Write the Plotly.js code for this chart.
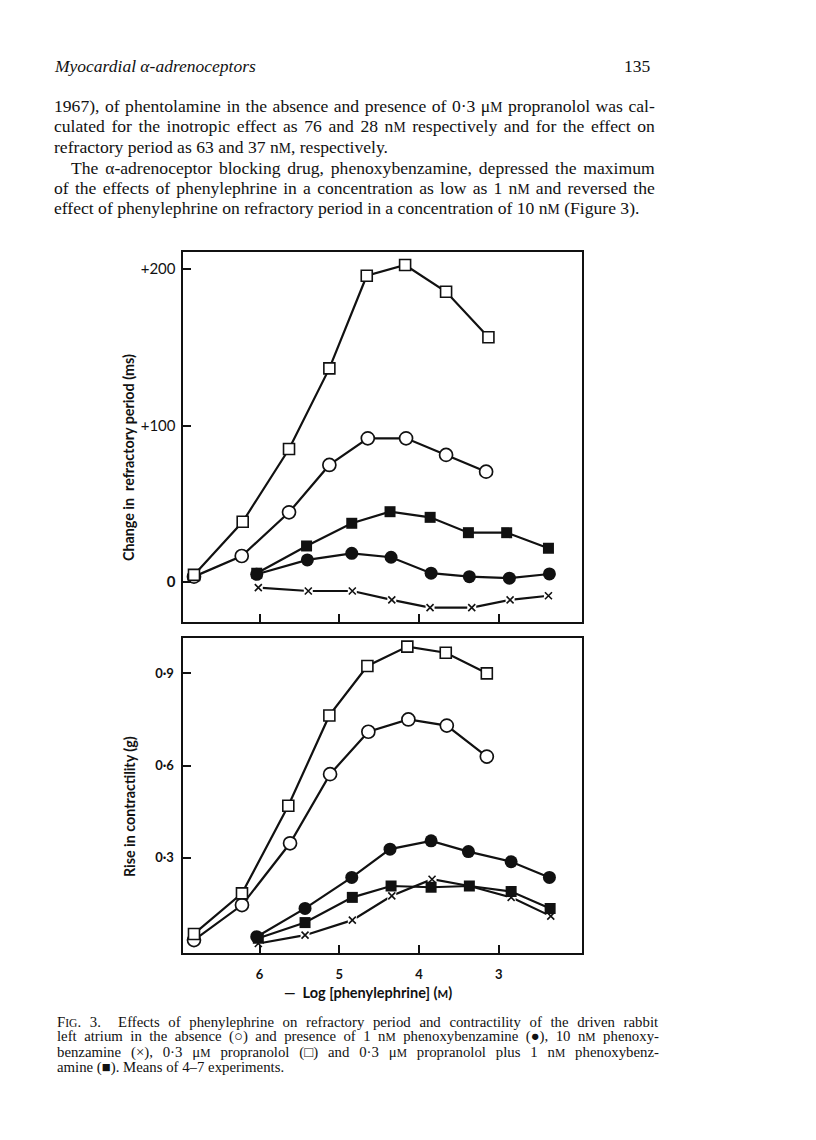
<!DOCTYPE html>
<html><head><meta charset="utf-8">
<script src="https://cdn.plot.ly/plotly-3.0.1.min.js"></script>
<style>html,body{margin:0;padding:0;background:#fff;} #page{width:816px;height:1140px;}</style>
</head><body><div id="page"></div>
<script>
// x values are -log[phenylephrine] (M)
// ---- Top panel: change in refractory period (ms) ----
const refrAbsenceX   = [6.822, 6.223, 5.630, 5.124, 4.642, 4.162, 3.660, 3.158];
const refrAbsenceY   = [3.4, 16.6, 44.5, 74.8, 91.8, 91.8, 81.2, 70.5];
const refrPbz1X      = [6.035, 5.400, 4.843, 4.350, 3.848, 3.368, 2.866, 2.364];
const refrPbz1Y      = [4.9, 14.1, 18.3, 15.8, 5.6, 3.4, 2.4, 5.1];
const refrPbz10X     = [6.015, 5.388, 4.836, 4.341, 3.861, 3.338, 2.857, 2.376];
const refrPbz10Y     = [-3.6, -5.8, -5.8, -11.5, -16.4, -16.4, -11.5, -8.8];
const refrPropX      = [6.822, 6.211, 5.630, 5.124, 4.655, 4.174, 3.660, 3.129];
const refrPropY      = [4.5, 38.5, 85.0, 136.5, 195.7, 202.6, 185.5, 156.4];
const refrPropPbzX   = [6.035, 5.410, 4.843, 4.363, 3.860, 3.380, 2.900, 2.376];
const refrPropPbzY   = [5.6, 23.0, 37.5, 44.9, 41.3, 31.5, 31.5, 21.5];
// ---- Bottom panel: rise in contractility (g) ----
const contAbsenceX   = [6.822, 6.220, 5.617, 5.115, 4.635, 4.133, 3.651, 3.149];
const contAbsenceY   = [0.032, 0.146, 0.347, 0.572, 0.710, 0.750, 0.730, 0.629];
const contPbz1X      = [6.035, 5.429, 4.843, 4.363, 3.848, 3.380, 2.844, 2.364];
const contPbz1Y      = [0.043, 0.135, 0.236, 0.328, 0.355, 0.320, 0.287, 0.236];
const contPbz10X     = [6.015, 5.429, 4.836, 4.341, 3.836, 3.368, 2.844, 2.347];
const contPbz10Y     = [0.021, 0.048, 0.097, 0.176, 0.230, 0.208, 0.171, 0.110];
const contPropX      = [6.822, 6.220, 5.639, 5.124, 4.647, 4.146, 3.664, 3.149];
const contPropY      = [0.052, 0.184, 0.469, 0.763, 0.924, 0.987, 0.967, 0.900];
const contPropPbzX   = [6.015, 5.429, 4.836, 4.350, 3.848, 3.368, 2.844, 2.355];
const contPropPbzY   = [0.038, 0.089, 0.171, 0.208, 0.204, 0.208, 0.190, 0.135];
// ---- Ticks ----
const xTickVals   = [6, 5, 4, 3];
const xTickText   = ['6', '5', '4', '3'];
const refrTickVals = [0, 100, 200];
const refrTickText = ['<b>0</b>', '+100', '+200'];
const contTickVals = [0.3, 0.6, 0.9];
const contTickText = ['0·3', '0·6', '0·9'];
// ---- Text ----
const SC = s => `<span style="font-size:0.78em">${s}</span>`;
const headerText = 'Myocardial α-adrenoceptors';
const pageNumber = '135';
const bodyLines = [
  `1967), of phentolamine in the absence and presence of 0·3 μ${SC('M')} propranolol was cal-`,
  `culated for the inotropic effect as 76 and 28 n${SC('M')} respectively and for the effect on`,
  `refractory period as 63 and 37 n${SC('M')}, respectively.`,
  `The α-adrenoceptor blocking drug, phenoxybenzamine, depressed the maximum`,
  `of the effects of phenylephrine in a concentration as low as 1 n${SC('M')} and reversed the`,
  `effect of phenylephrine on refractory period in a concentration of 10 n${SC('M')} (Figure 3).`
];
const captionLines = [
  `F${SC('IG')}. 3.  Effects of phenylephrine on refractory period and contractility of the driven rabbit`,
  `left atrium in the absence (○) and presence of 1 n${SC('M')} phenoxybenzamine (●), 10 n${SC('M')} phenoxy-`,
  `benzamine (×), 0·3 μ${SC('M')} propranolol (□) and 0·3 μ${SC('M')} propranolol plus 1 n${SC('M')} phenoxybenz-`,
  `amine (■). Means of 4–7 experiments.`
];
const refrTitle = 'Change in  refractory period (ms)';
const contTitle = 'Rise in contractility (g)';
const xTitle = `—  Log [phenylephrine] (${SC('M')})`;

const W = 816, H = 1140;
const INK = '#111';
const px = v => v / W, py = v => 1 - v / H;

const styles = {
  openCircle:   {symbol: 'circle', size: 13, color: '#fff', line: {color: INK, width: 1.7}},
  filledCircle: {symbol: 'circle', size: 13, color: INK, line: {color: INK, width: 0}},
  openSquare:   {symbol: 'square', size: 11, color: '#fff', line: {color: INK, width: 1.6}},
  filledSquare: {symbol: 'square', size: 11, color: INK, line: {color: INK, width: 0}},
  cross:        {symbol: 'x-thin', size: 7, color: INK, line: {color: INK, width: 1.6}}
};
const series = [
  [refrAbsenceX, refrAbsenceY, 'x', 'y', 'openCircle'],
  [refrPbz1X, refrPbz1Y, 'x', 'y', 'filledCircle'],
  [refrPbz10X, refrPbz10Y, 'x', 'y', 'cross'],
  [refrPropX, refrPropY, 'x', 'y', 'openSquare'],
  [refrPropPbzX, refrPropPbzY, 'x', 'y', 'filledSquare'],
  [contAbsenceX, contAbsenceY, 'x2', 'y2', 'openCircle'],
  [contPbz1X, contPbz1Y, 'x2', 'y2', 'filledCircle'],
  [contPbz10X, contPbz10Y, 'x2', 'y2', 'cross'],
  [contPropX, contPropY, 'x2', 'y2', 'openSquare'],
  [contPropPbzX, contPropPbzY, 'x2', 'y2', 'filledSquare']
];
const data = [];
series.forEach(([x, y, xa, ya]) => data.push({x, y, xaxis: xa, yaxis: ya, type: 'scatter', mode: 'lines',
  line: {color: INK, width: 2.2}, hoverinfo: 'skip', showlegend: false}));
series.forEach(([x, y, xa, ya, k]) => {
  if (k === 'cross') data.push({x, y, xaxis: xa, yaxis: ya, type: 'scatter', mode: 'markers',
    marker: {symbol: 'square', size: 9, color: '#fff', line: {width: 0}}, showlegend: false});
  data.push({x, y, xaxis: xa, yaxis: ya, type: 'scatter', mode: 'markers', marker: styles[k], showlegend: false});
});

const xDom = [px(182.5), px(581.7)];
const xRange = [6.966, 1.959];
const axisCommon = {showline: true, mirror: true, linewidth: 2, linecolor: INK, ticks: 'inside',
  ticklen: 8, tickwidth: 2, tickcolor: INK, showgrid: false, zeroline: false, fixedrange: true};
const tickFont = {family: 'Lato', size: 13, color: INK, weight: 'bold'};
const topTickFont = {family: 'Lato', size: 15, color: INK, weight: 'normal'};

const anns = [];
const serif = (size, extra) => Object.assign({family: 'Liberation Serif', size, color: INK}, extra || {});
const textAnn = (text, x, y, font, o) => Object.assign({xref: 'paper', yref: 'paper', x: px(x), y: py(y),
  xanchor: 'left', yanchor: 'middle', showarrow: false, text, font}, o || {});

anns.push(textAnn(headerText, 52, 66, serif(17.5, {style: 'italic'})));
anns.push(textAnn(pageNumber, 653, 66, serif(17.5), {xanchor: 'right'}));
const bodyY = [106, 126, 146.5, 168, 188, 207.5];
const justify = [];
bodyLines.forEach((t, i) => {
  const x0 = i === 3 ? 69 : 52;
  anns.push(textAnn(t, x0, bodyY[i], serif(17.6)));
  justify.push({idx: anns.length - 1, x0, target: (i === 2 || i === 5) ? null : 653});
});
const capY = [1021.5, 1036.8, 1052.1, 1067.4];
captionLines.forEach((t, i) => {
  anns.push(textAnn(t, 55, capY[i], serif(14.8)));
  justify.push({idx: anns.length - 1, x0: 55, target: i === 3 ? null : 657});
});
const sans = {family: 'Lato', size: 14.3, color: INK, weight: 'bold'};
anns.push(textAnn(refrTitle, 128, 458, sans, {xanchor: 'center', textangle: -90}));
anns.push(textAnn(contTitle, 129, 807, sans, {xanchor: 'center', textangle: -90}));
anns.push(textAnn(xTitle, 368, 992, Object.assign({}, sans, {size: 14.5}), {xanchor: 'center'}));

const layout = {
  width: W, height: H, margin: {l: 0, r: 0, t: 0, b: 0}, paper_bgcolor: '#fff', plot_bgcolor: '#fff',
  showlegend: false,
  xaxis: Object.assign({}, axisCommon, {domain: xDom, range: xRange, anchor: 'y', tickvals: xTickVals, showticklabels: false}),
  yaxis: Object.assign({}, axisCommon, {domain: [py(622), py(252)], range: [-25.6, 210.9], anchor: 'x',
    tickvals: refrTickVals, ticktext: refrTickText, tickfont: topTickFont, ticklabelstandoff: 2}),
  xaxis2: Object.assign({}, axisCommon, {domain: xDom, range: xRange, anchor: 'y2', tickvals: xTickVals,
    ticktext: xTickText, tickfont: tickFont, ticklabelstandoff: 8}),
  yaxis2: Object.assign({}, axisCommon, {domain: [py(953), py(638)], range: [-0.010, 1.015], anchor: 'x2',
    tickvals: contTickVals, ticktext: contTickText, tickfont: tickFont, ticklabelstandoff: 4}),
  annotations: anns
};

const gd = document.getElementById('page');
Plotly.newPlot(gd, data, layout, {staticPlot: true, displayModeBar: false}).then(() => {
  const groups = gd.querySelectorAll('g.annotation');
  const upd = {};
  justify.forEach(j => {
    if (!j.target) return;
    const g = Array.from(groups).find(n => +n.getAttribute('data-index') === j.idx);
    if (!g) return;
    const t = g.querySelector('text.annotation-text');
    if (!t) return;
    const w = t.getBBox().width;
    const plain = t.textContent;
    const spaces = (plain.match(/ /g) || []).length;
    if (!spaces) return;
    const ws = (j.target - j.x0 - w) / spaces;
    if (ws > -3 && ws < 10) {
      upd[`annotations[${j.idx}].text`] = `<span style="word-spacing:${ws.toFixed(2)}px">${anns[j.idx].text}</span>`;
    }
  });
  return Plotly.relayout(gd, upd);
});
</script></body></html>
